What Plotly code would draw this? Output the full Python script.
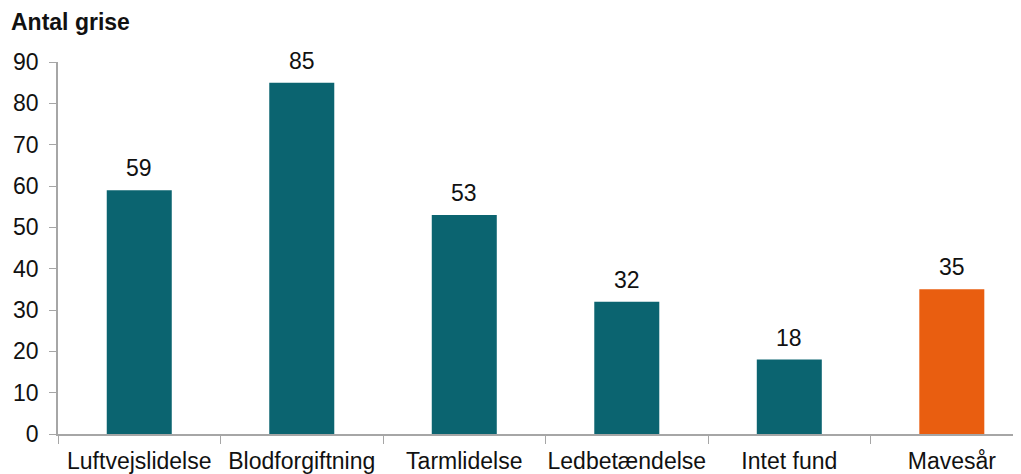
import plotly.graph_objects as go

categories = ["Luftvejslidelse", "Blodforgiftning", "Tarmlidelse", "Ledbetændelse", "Intet fund", "Mavesår"]
values = [59, 85, 53, 32, 18, 35]
bar_colors = ["#0b6470", "#0b6470", "#0b6470", "#0b6470", "#0b6470", "#e95e10"]
y_ticks = [0, 10, 20, 30, 40, 50, 60, 70, 80, 90]

FONT = "Liberation Sans, Arial"
L, T, B = 50, 54, 48
PW, PH = 1021 - L, 474 - T - B

fig = go.Figure(go.Bar(
    x=categories, y=values, marker=dict(color=bar_colors, line=dict(width=0)),
    width=0.4, cliponaxis=False,
))

value_labels = [dict(x=c, y=v, text=str(v), xref="x", yref="y", showarrow=False,
                     yanchor="bottom", yshift=7,
                     font=dict(family=FONT, size=23, color="#111"))
                for c, v in zip(categories, values)]

fig.update_layout(
    width=1021, height=474,
    margin=dict(l=L, r=0, t=T, b=B, autoexpand=False),
    plot_bgcolor="white", paper_bgcolor="white",
    showlegend=False,
    font=dict(family=FONT, size=23, color="#111"),
    annotations=value_labels + [dict(text="<b>Antal grise</b>", xref="paper", yref="paper",
                      x=-49 / PW, y=1 + 40 / PH, xanchor="left", yanchor="middle",
                      showarrow=False, font=dict(family=FONT, size=23, color="#111"))],
)
fig.update_xaxes(
    range=[-0.5, 5.475], showline=True, linecolor="#a6a6a6", linewidth=1.5,
    ticks="outside", tickson="boundaries", ticklen=8, tickcolor="#a6a6a6",
    tickfont=dict(size=23), tickangle=0, showgrid=False, fixedrange=True,
    automargin=False, ticklabelstandoff=6,
)
fig.update_yaxes(
    range=[0, 90], tickvals=y_ticks, showline=True, linecolor="#a6a6a6", linewidth=1.5,
    ticks="outside", ticklen=7, tickcolor="#a6a6a6", tickfont=dict(size=23),
    showgrid=False, zeroline=False, fixedrange=True, automargin=False,
    ticklabelstandoff=6,
)

fig.write_html("out.html")
